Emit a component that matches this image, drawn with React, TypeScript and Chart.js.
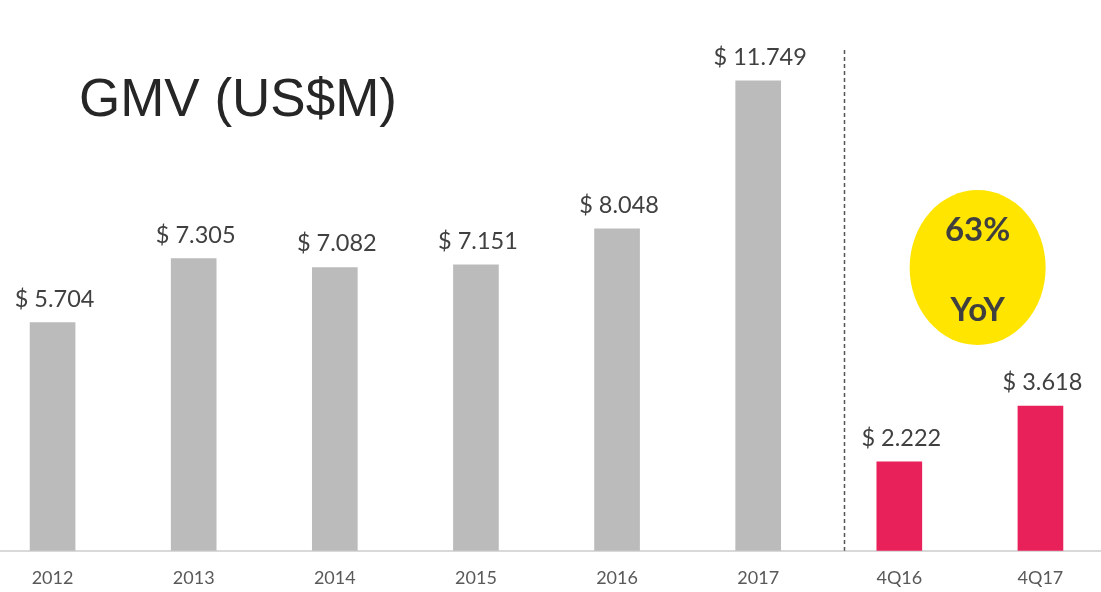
import React, { useEffect, useRef } from "react";
import { Chart, registerables } from "chart.js";

Chart.register(...registerables);

const categories = ["2012", "2013", "2014", "2015", "2016", "2017", "4Q16", "4Q17"];
const gmvValues = [5.704, 7.305, 7.082, 7.151, 8.048, 11.749, 2.222, 3.618];
const valueLabels = ["$ 5.704", "$ 7.305", "$ 7.082", "$ 7.151", "$ 8.048", "$ 11.749", "$ 2.222", "$ 3.618"];
const barKinds = ["year", "year", "year", "year", "year", "year", "quarter", "quarter"];
const titleText = "GMV (US$M)";
const badgeLines = ["63%", "YoY"];

const OFFSET_X = 18;
const CANVAS_W = 1129;
const CANVAS_H = 592;

const decorPlugin = {
  id: "decor",
  afterDatasetsDraw(chart: any) {
    const ctx = chart.ctx;
    const xs = chart.scales.x;
    const ys = chart.scales.y;
    const area = chart.chartArea;
    const meta = chart.getDatasetMeta(0);
    ctx.save();
    // value labels
    ctx.font = "23.5px Lato";
    ctx.fillStyle = "#404040";
    ctx.textAlign = "center";
    ctx.textBaseline = "alphabetic";
    meta.data.forEach((bar: any, i: number) => {
      ctx.fillText(valueLabels[i], bar.x + 2, bar.y - 16);
    });
    // title
    ctx.font = "53px 'Liberation Sans'";
    ctx.fillStyle = "#262626";
    ctx.textAlign = "left";
    ctx.fillText(titleText, 79 + OFFSET_X, 116);
    // divider
    const step = xs.getPixelForValue(6) - xs.getPixelForValue(5);
    const dx = Math.round(xs.getPixelForValue(5) + 0.61 * step) + 0.5;
    ctx.strokeStyle = "#555555";
    ctx.lineWidth = 1.5;
    ctx.setLineDash([4, 3]);
    ctx.beginPath();
    ctx.moveTo(dx, 50);
    ctx.lineTo(dx, area.bottom);
    ctx.stroke();
    ctx.setLineDash([]);
    // badge
    const cx = xs.getPixelForValue(6) + 0.555 * step;
    const cy = ys.getPixelForValue(7.08);
    ctx.fillStyle = "#FFE500";
    ctx.beginPath();
    ctx.ellipse(cx, cy, 68, 77.5, 0, 0, Math.PI * 2);
    ctx.fill();
    ctx.fillStyle = "#3F3F3F";
    ctx.font = "bold 33px Lato";
    ctx.textAlign = "center";
    ctx.textBaseline = "middle";
    ctx.fillText(badgeLines[0], cx, cy - 37);
    ctx.fillText(badgeLines[1], cx, cy + 43);
    ctx.restore();
  },
};

export default function App() {
  const ref = useRef<HTMLCanvasElement>(null);
  useEffect(() => {
    if (!ref.current) return;
    const chart = new Chart(ref.current, {
      type: "bar",
      data: {
        labels: categories,
        datasets: [
          {
            data: gmvValues,
            backgroundColor: barKinds.map((k) => (k === "year" ? "#BBBBBB" : "#E8215A")),
            barThickness: 45,
            borderWidth: 0,
          },
        ],
      },
      options: {
        responsive: false,
        animation: false,
        layout: { padding: 0 },
        plugins: { legend: { display: false }, tooltip: { enabled: false } },
        scales: {
          x: {
            offset: true,
            grid: { display: false, drawTicks: false },
            border: { display: true, color: "#D9D9D9", width: 2 },
            ticks: { color: "#595959", font: { family: "Lato", size: 18 }, padding: 17 },
            afterFit(scale: any) {
              scale.height = 41.3;
            },
          },
          y: {
            display: false,
            min: 0,
            max: 13.77,
          },
        },
      },
      plugins: [decorPlugin],
    });
    return () => chart.destroy();
  }, []);
  return (
    <div style={{ position: "fixed", left: 0, top: 0, width: 1101, height: 592, overflow: "hidden", background: "#fff" }}>
      <canvas
        ref={ref}
        width={CANVAS_W}
        height={CANVAS_H}
        style={{ position: "absolute", left: -OFFSET_X, top: 0, width: CANVAS_W, height: CANVAS_H }}
      />
    </div>
  );
}
